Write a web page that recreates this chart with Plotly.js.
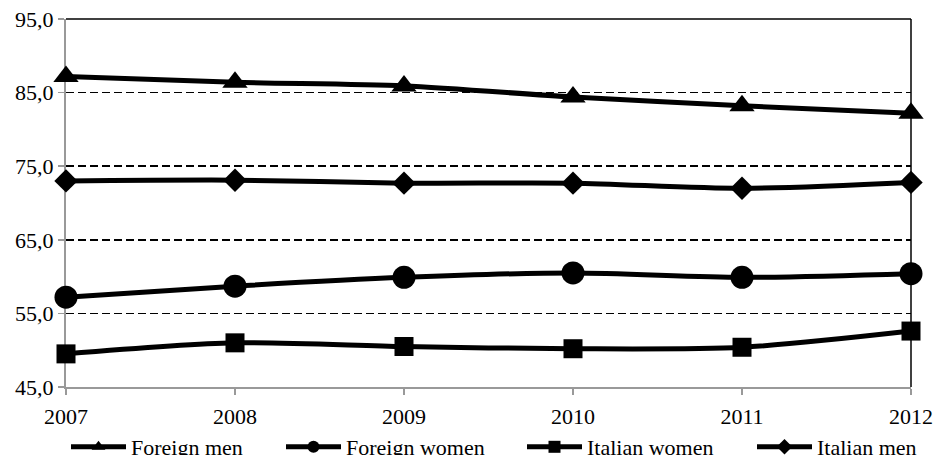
<!DOCTYPE html>
<html>
<head>
<meta charset="utf-8">
<script src="https://cdn.plot.ly/plotly-3.0.1.min.js"></script>
<style>html,body{margin:0;padding:0;background:#fff;}#chart{width:938px;height:455px;}</style>
</head>
<body>
<div id="chart"></div>
<script>
const years = [2007, 2008, 2009, 2010, 2011, 2012];
const seriesNames = ['Foreign men', 'Foreign women', 'Italian women', 'Italian men'];
const foreignMen = [87.2, 86.4, 85.9, 84.4, 83.2, 82.2];
const foreignWomen = [57.2, 58.7, 59.9, 60.5, 59.9, 60.4];
const italianWomen = [49.5, 51.0, 50.5, 50.2, 50.4, 52.6];
const italianMen = [73.0, 73.1, 72.7, 72.7, 72.0, 72.8];
const yTicks = [45, 55, 65, 75, 85, 95];

const font = '"Liberation Serif", "Times New Roman", Times, serif';
function tr(name, y, symbol, size, leg) {
  return {
    x: years, y: y, name: name, type: 'scatter', mode: 'lines+markers',
    line: {color: '#000', width: 5, shape: 'spline', smoothing: 0.8},
    marker: {symbol: symbol, size: size, color: '#000'},
    cliponaxis: false, legend: leg
  };
}
const data = [
  tr(seriesNames[0], foreignMen, 'triangle-up', 22, 'legend'),
  tr(seriesNames[1], foreignWomen, 'circle', 23, 'legend2'),
  tr(seriesNames[2], italianWomen, 'square', 19, 'legend3'),
  tr(seriesNames[3], italianMen, 'diamond', 18, 'legend4')
];
function leg(xpx) {
  return {x: xpx / 938, xref: 'container', y: 1 - 447 / 455, yref: 'container',
    xanchor: 'left', yanchor: 'middle', orientation: 'h', itemsizing: 'constant',
    itemwidth: 55, font: {family: font, size: 22, color: '#000'}, bgcolor: 'rgba(0,0,0,0)', borderwidth: 0};
}
const layout = {
  width: 938, height: 455,
  margin: {l: 66, r: 27, t: 19, b: 68},
  paper_bgcolor: '#fff', plot_bgcolor: '#fff',
  separators: ',.',
  showlegend: true,
  legend: leg(66), legend2: leg(281), legend3: leg(522), legend4: leg(752),
  font: {family: font, size: 22, color: '#000'},
  xaxis: {
    range: [2007, 2012], tickvals: years, ticktext: years.map(String),
    showgrid: false, zeroline: false, showline: true, linecolor: '#999', linewidth: 2,
    ticks: 'outside', ticklen: 6, tickcolor: '#999', tickwidth: 1.5, ticklabelstandoff: 3,
    layer: 'below traces', tickfont: {family: font, size: 22, color: '#000'}
  },
  yaxis: {
    range: [45, 95], tickvals: yTicks, tickformat: '.1f',
    showgrid: true, gridcolor: '#000', gridwidth: 1.5, griddash: '8px,4px',
    zeroline: false, showline: true, linecolor: '#999', linewidth: 2,
    ticks: 'outside', ticklen: 6, tickcolor: '#999', tickwidth: 1.5,
    layer: 'below traces', tickfont: {family: font, size: 22, color: '#000'}
  },
  shapes: [
    {type: 'line', xref: 'paper', yref: 'paper', x0: 0, x1: 1, y0: 1, y1: 1, line: {color: '#000', width: 1.5}, layer: 'below'},
    {type: 'line', xref: 'paper', yref: 'paper', x0: 1, x1: 1, y0: 0, y1: 1, line: {color: '#000', width: 1.5}, layer: 'below'}
  ]
};
Plotly.newPlot('chart', data, layout, {displayModeBar: false, staticPlot: true});
</script>
</body>
</html>
